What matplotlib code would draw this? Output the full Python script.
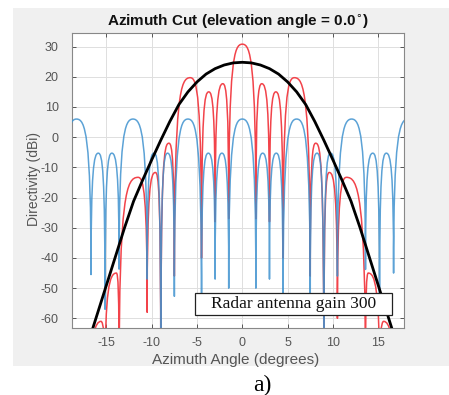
import matplotlib
matplotlib.use('Agg')
import matplotlib.pyplot as plt
from matplotlib.path import Path
from matplotlib.patches import PathPatch, Rectangle

plt.rcParams['axes.unicode_minus'] = False
plt.rcParams['font.family'] = ['Liberation Sans', 'DejaVu Sans']

# ---------------- data ----------------
# Blue curve (array factor): nulls, depth at each null, lobe peaks
blue_nulls = [-19.9, -16.7, -15.15, -13.6, -10.5, -9.0, -7.5, -4.5, -3.0, -1.5,
              1.5, 3.0, 4.5, 7.5, 9.0, 10.5, 13.6, 15.15, 16.7, 19.9]
blue_null_db = [-60, -45.5, -57, -43.7, -47, -80, -52.7, -56, -47, -50,
                -50, -47, -56, -55, -80, -46, -43.8, -57, -45, -60]
blue_peak_x = [-18.3, -15.9, -14.4, -12.07, -9.75, -8.25, -6.0, -3.75, -2.25, 0.0,
               2.25, 3.75, 6.0, 8.25, 9.75, 12.07, 14.4, 15.9, 18.3]
blue_peak_db = [6.0, -5.3, -5.3, 6.0, -5.3, -5.3, 6.0, -5.3, -5.3, 6.0,
                -5.3, -5.3, 6.0, -5.3, -5.3, 6.0, -5.3, -5.3, 6.0]

# Red curve (total pattern)
red_nulls = [-16.7, -15.15, -13.6, -10.5, -9.0, -7.5, -4.5, -3.0, -1.5,
             1.5, 3.0, 4.5, 7.5, 9.0, 10.5, 13.6, 15.15, 16.7]
red_null_db = [-80, -80, -80, -58, -80, -46, -40, -28, -27,
               -27, -28, -40, -46, -80, -60, -80, -80, -80]
red_peak_x = [-15.6, -13.9, -11.5, -9.6, -8.1, -5.75, -3.7, -2.15, 0.0,
              2.15, 3.7, 5.75, 8.1, 9.6, 11.5, 13.9, 15.6]
red_peak_db = [-61, -45, -13.3, -11.7, -2.0, 19.7, 15.0, 17.7, 30.8,
               17.7, 15.0, 19.7, -2.0, -11.7, -13.3, -45, -61]

# Black curve (radar antenna gain pattern)
black_x = [-17, -16, -15, -14, -13, -12, -11, -10, -9, -8, -7, -6, -5, -4, -3, -2,
           -1, 0, 1, 2, 3, 4, 5, 6, 7, 8, 9, 10, 11, 12, 13, 14, 15, 16, 17]
black_db = [-68, -58.5, -49, -39.5, -30, -21.2, -14.2, -7.5, -1.0, 5.2, 10.8, 15.0,
            18.3, 20.9, 22.7, 23.9, 24.6, 24.8, 24.6, 23.9, 22.7, 20.9, 18.3, 15.0,
            10.8, 5.2, -1.0, -7.5, -14.2, -21.2, -30, -39.5, -49, -58.5, -68]

x_ticks = [-15, -10, -5, 0, 5, 10, 15]
y_ticks = [-60, -50, -40, -30, -20, -10, 0, 10, 20, 30]
title_txt = 'Azimuth Cut (elevation angle = 0.0$^{\\circ}$)'
xlabel_txt = 'Azimuth Angle (degrees)'
ylabel_txt = 'Directivity (dBi)'
legend_txt = 'Radar antenna gain 300'
caption_txt = 'a)'


def lobe_path(nulls, null_db, peak_x, peak_db, b=0.6, c=5.0):
    verts = [(nulls[0], null_db[0])]
    codes = [Path.MOVETO]
    for i in range(len(peak_x)):
        x0, y0 = nulls[i], null_db[i]
        x1, y1 = nulls[i + 1], null_db[i + 1]
        xp, yp = peak_x[i], peak_db[i]
        verts += [(x0, yp - c), (xp - b * (xp - x0), yp), (xp, yp)]
        verts += [(xp + b * (x1 - xp), yp), (x1, yp - c), (x1, y1)]
        codes += [Path.CURVE4] * 6
    return Path(verts, codes)


fig = plt.figure(figsize=(4.49, 3.95), dpi=100)
fig.patch.set_facecolor('white')
fig.patches.append(Rectangle((13 / 449, 1 - 366 / 395), 436 / 449, (366 - 8) / 395,
                             transform=fig.transFigure, facecolor='#f0f0f0',
                             edgecolor='none', zorder=-5))

L, R, T, B = 72, 404, 33.3, 327.7
ax = fig.add_axes([L / 449, 1 - B / 395, (R - L) / 449, (B - T) / 395])
ax.set_zorder(1)
ax.set_facecolor('white')
ax.set_xlim(-18.8, 17.85)
ax.set_ylim(-63.1, 34.4)

ax.add_patch(PathPatch(lobe_path(red_nulls, red_null_db, red_peak_x, red_peak_db),
                       fill=False, edgecolor='#f2434a', lw=1.1, joinstyle='round',
                       zorder=3))
ax.add_patch(PathPatch(lobe_path(blue_nulls, blue_null_db, blue_peak_x, blue_peak_db),
                       fill=False, edgecolor='#3f92cf', lw=1.1, alpha=0.85,
                       joinstyle='round', zorder=4))
ax.plot(black_x, black_db, color='black', lw=2.0, zorder=5, solid_joinstyle='round')

ax.set_xticks(x_ticks)
ax.set_yticks(y_ticks)
ax.grid(True, color='#dedede', lw=0.7)
ax.set_axisbelow(True)
ax.tick_params(direction='in', length=3, width=0.7, colors='#555555',
               labelsize=9, top=True, right=True)
ax.tick_params(axis='x', pad=6.5)
ax.tick_params(axis='y', pad=9.5)
for s in ax.spines.values():
    s.set_color('#888888')
    s.set_linewidth(0.8)

fig.text(238 / 449, 1 - 21.7 / 395, title_txt, ha='center', va='center',
         fontsize=11, fontweight='bold', color='#111111')
fig.text(236 / 449, 1 - 360 / 395, xlabel_txt, ha='center', va='center',
         fontsize=11, color='#555555')
fig.text(34 / 449, 1 - 179 / 395, ylabel_txt, ha='center', va='center',
         rotation=90, fontsize=10, color='#555555')

ax.add_patch(Rectangle((0.3705, 0.0431), 0.5934, 0.0737, transform=ax.transAxes,
                       facecolor='white', edgecolor='#222222', lw=0.9, zorder=10))
ax.text(0.667, 0.0805, legend_txt, transform=ax.transAxes, ha='center', va='center',
        fontsize=12.5, family=['Liberation Serif', 'DejaVu Serif'], color='#111111',
        zorder=11)

fig.text(262 / 449, 1 - 385 / 395, caption_txt, ha='center', va='center',
         fontsize=17, family=['Liberation Serif', 'DejaVu Serif'], color='black')

fig.savefig('out.png', dpi=100, facecolor=fig.get_facecolor())
